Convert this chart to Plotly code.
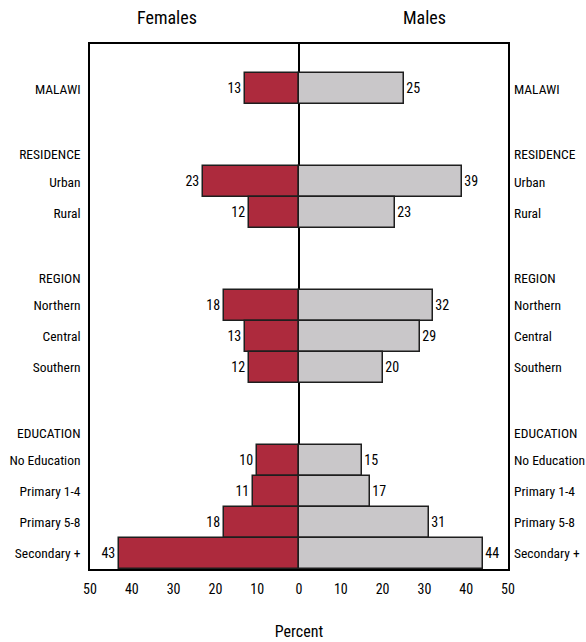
import plotly.graph_objects as go

# Data
categories = ["MALAWI", "RESIDENCE", "Urban", "Rural", "REGION", "Northern", "Central",
              "Southern", "EDUCATION", "No Education", "Primary 1-4", "Primary 5-8", "Secondary +"]
headers = ["RESIDENCE", "REGION", "EDUCATION"]
females = [13, None, 23, 12, None, 18, 13, 12, None, 10, 11, 18, 43]
males = [25, None, 39, 23, None, 32, 29, 20, None, 15, 17, 31, 44]
x_ticks = [-50, -40, -30, -20, -10, 0, 10, 20, 30, 40, 50]

FONT = "Roboto Condensed, Roboto, Liberation Sans, sans-serif"
RED = "#ad2a3d"
GRAY = "#c9c7c9"
EDGE = "#1e1e1e"


def fnt(size):
    return dict(family=FONT, size=size, color="black")


# row slots, bottom-up; each header gets a blank slot above it
slot = {}
y = 0
for cat in reversed(categories):
    if cat in headers:
        slot[cat] = y - 0.12
        y += 2
    else:
        slot[cat] = y
        y += 1
ypos = [slot[c] for c in categories]

bar_y = [p for p, f in zip(ypos, females) if f is not None]
fem = [f for f in females if f is not None]
mal = [m for m in males if m is not None]

fig = go.Figure()
fig.add_trace(go.Bar(
    y=bar_y, x=[-v for v in fem], orientation="h", width=1.0,
    marker=dict(color=RED, line=dict(color=EDGE, width=1.5)),
    text=[str(v) for v in fem], textposition="outside", constraintext="none",
    textfont=fnt(14), cliponaxis=False, hoverinfo="skip", name="Females",
))
fig.add_trace(go.Bar(
    y=bar_y, x=mal, orientation="h", width=1.0,
    marker=dict(color=GRAY, line=dict(color=EDGE, width=1.5)),
    text=[str(v) for v in mal], textposition="outside", constraintext="none",
    textfont=fnt(14), cliponaxis=False, hoverinfo="skip", name="Males",
))

yrange = [-0.5, 16.45]
fig.update_layout(
    width=586, height=642,
    margin=dict(l=90, r=78, t=44, b=73),
    paper_bgcolor="white", plot_bgcolor="white",
    barmode="overlay", bargap=0, showlegend=False,
    font=fnt(14),
    xaxis=dict(
        range=[-50, 50], tickvals=x_ticks, ticktext=[str(abs(v)) for v in x_ticks],
        showgrid=False, showline=True, linecolor="black", linewidth=1.5, mirror=True,
        zeroline=True, zerolinecolor="black", zerolinewidth=1.5, ticks="",
        automargin=False, ticklabelstandoff=6, tickfont=fnt(14),
        title=dict(text="Percent", font=fnt(16), standoff=30),
    ),
    yaxis=dict(
        range=yrange, tickvals=ypos, ticktext=categories, showgrid=False, zeroline=False,
        showline=True, linecolor="black", linewidth=1.5, mirror=True, ticks="",
        automargin=False, ticklabelstandoff=5, tickfont=fnt(13.5),
    ),
    yaxis2=dict(
        range=yrange, tickvals=ypos, ticktext=categories, overlaying="y", side="right",
        showgrid=False, zeroline=False, showline=False, ticks="",
        automargin=False, ticklabelstandoff=5, tickfont=fnt(13.5),
    ),
)

fig.add_trace(go.Scatter(x=[0], y=[0], yaxis="y2", mode="markers",
                         marker=dict(opacity=0), hoverinfo="skip", showlegend=False))

fig.add_annotation(text="Females", x=-31.5, y=1.05, xref="x", yref="paper",
                   yanchor="middle", showarrow=False, font=fnt(18))
fig.add_annotation(text="Males", x=30, y=1.05, xref="x", yref="paper",
                   yanchor="middle", showarrow=False, font=fnt(18))

# drop the default body margin so the 586x642 figure fills the window exactly
fig.write_html("out.html", config={"displayModeBar": False},
               post_script="document.body.style.margin = '0';")
